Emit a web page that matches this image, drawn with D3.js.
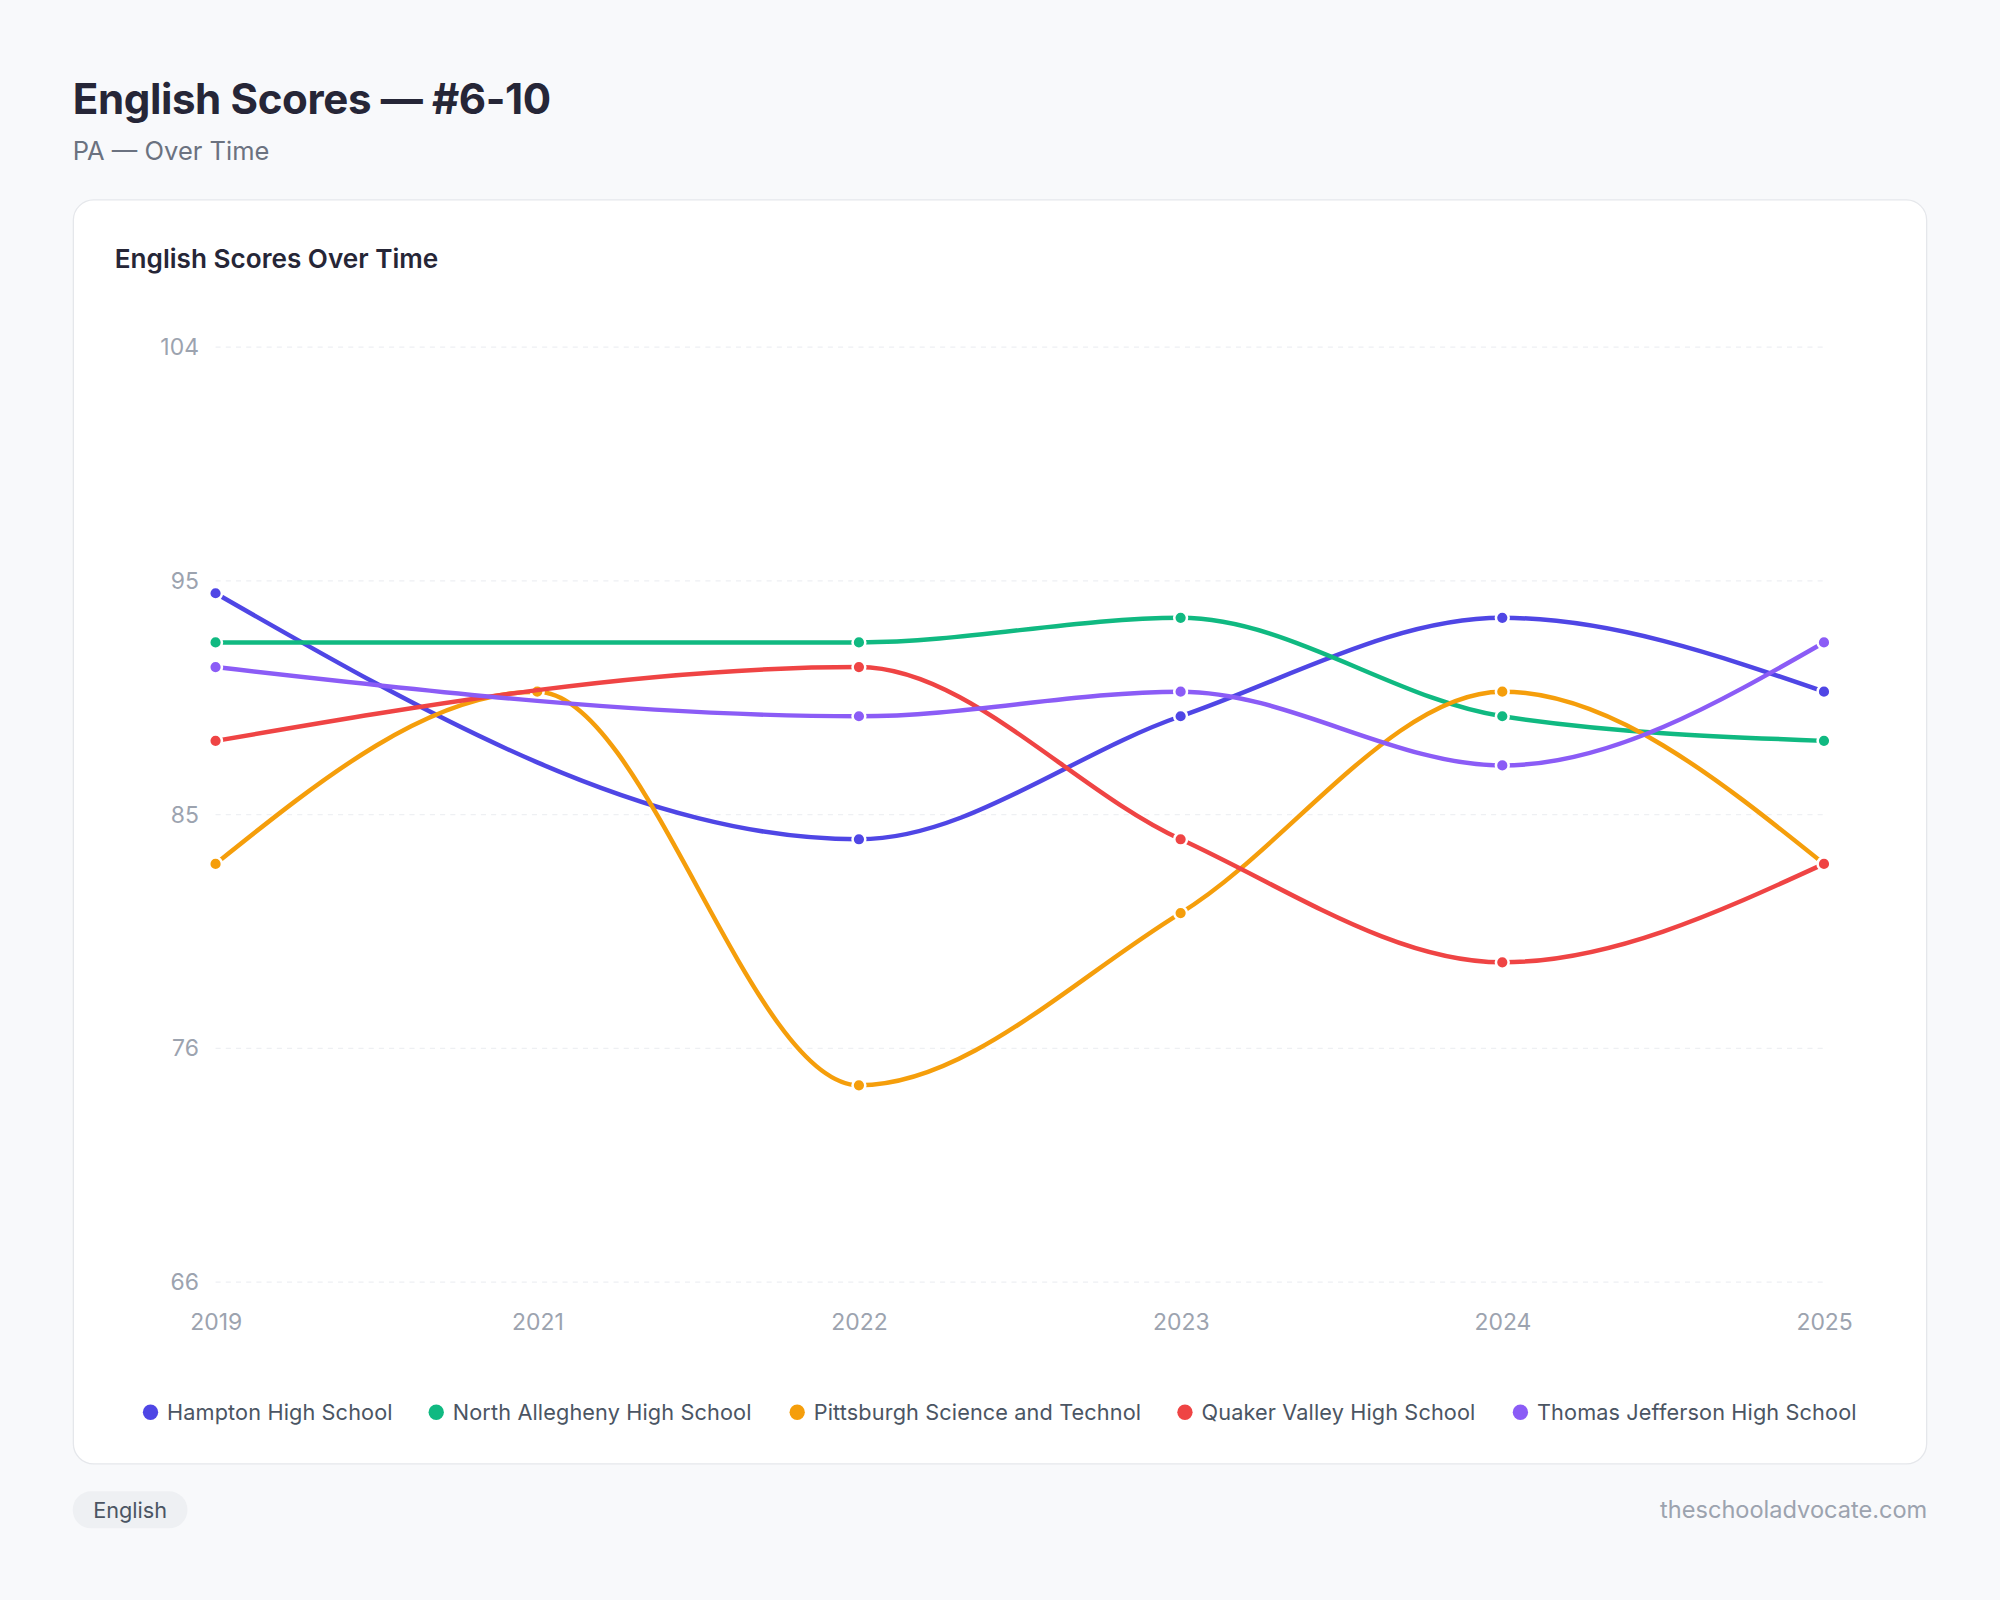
<!DOCTYPE html>
<html>
<head>
<meta charset="UTF-8">
<script src="https://d3js.org/d3.v7.min.js"></script>
<style>
  body { margin: 0; background: #f8f9fb; }
  svg { display: block; font-family: Inter, "Noto Sans", sans-serif; }
</style>
</head>
<body>
<svg width="2000" height="1600" viewBox="0 0 1568 1254"></svg>
<script>
const years = ['2019', '2021', '2022', '2023', '2024', '2025'];
const schools = ['Hampton High School', 'North Allegheny High School', 'Pittsburgh Science and Technol', 'Quaker Valley High School', 'Thomas Jefferson High School'];
const colors = ['#4f46e5', '#10b981', '#f59e0b', '#ef4444', '#8b5cf6'];
const hampton = [94, null, 84, 89, 93, 90];
const northAllegheny = [92, null, 92, 93, 89, 88];
const pittsburgh = [83, 90, 74, 81, 90, 83];
const quakerValley = [88, null, 91, 84, 79, 83];
const thomasJefferson = [91, null, 89, 90, 87, 92];
const yTicks = [66, 75.5, 85, 94.5, 104];
const seriesValues = [hampton, northAllegheny, pittsburgh, quakerValley, thomasJefferson];

const svg = d3.select('svg');
svg.append('rect').attr('width', 1568).attr('height', 1254).attr('fill', '#f8f9fb');

svg.append('text').attr('x', 57).attr('y', 89).attr('font-size', 33).attr('font-weight', 700)
  .attr('fill', '#262637').attr('letter-spacing', -0.3).text('English Scores — #6-10');
svg.append('text').attr('x', 57).attr('y', 125).attr('font-size', 20).attr('fill', '#6b7280').text('PA — Over Time');

svg.append('rect').attr('x', 57.5).attr('y', 156.5).attr('width', 1453).attr('height', 991).attr('rx', 16)
  .attr('fill', '#fff').attr('stroke', '#e5e7eb');
svg.append('text').attr('x', 90).attr('y', 210).attr('font-size', 20.5).attr('font-weight', 600)
  .attr('fill', '#262637').text('English Scores Over Time');

const x = d3.scalePoint().domain(years).range([169, 1430]);
const y = d3.scaleLinear().domain([66, 104]).range([1005, 272]);

// grid + y labels
const yAxis = svg.append('g').attr('transform', 'translate(169,0)')
  .call(d3.axisLeft(y).tickValues(yTicks).tickFormat(d3.format('.0f')).tickSize(0).tickPadding(13));
yAxis.select('.domain').remove();
yAxis.selectAll('text').attr('font-size', 18).attr('fill', '#9ca3af').attr('font-family', 'Inter');
svg.append('g').selectAll('line').data(yTicks).join('line')
  .attr('x1', 169).attr('x2', 1430).attr('y1', d => y(d)).attr('y2', d => y(d))
  .attr('stroke', '#eef0f3').attr('stroke-dasharray', '4,4');

const xAxis = svg.append('g').attr('transform', 'translate(0,1005)')
  .call(d3.axisBottom(x).tickSize(0).tickPadding(25));
xAxis.select('.domain').remove();
xAxis.selectAll('text').attr('font-size', 18).attr('fill', '#9ca3af').attr('font-family', 'Inter');

const line = d3.line().x(d => x(d.year)).y(d => y(d.v)).curve(d3.curveMonotoneX);

seriesValues.forEach((vals, i) => {
  const pts = years.map((yr, j) => ({ year: yr, v: vals[j] })).filter(d => d.v != null);
  svg.append('path').datum(pts).attr('d', line).attr('fill', 'none')
    .attr('stroke', colors[i]).attr('stroke-width', 3.5);
  svg.append('g').selectAll('circle').data(pts).join('circle')
    .attr('cx', d => x(d.year)).attr('cy', d => y(d.v)).attr('r', 5)
    .attr('fill', colors[i]).attr('stroke', '#fff').attr('stroke-width', 2);
});

// legend
const legendX = [118, 342, 625, 929, 1192];
schools.forEach((s, i) => {
  svg.append('circle').attr('cx', legendX[i]).attr('cy', 1107).attr('r', 6).attr('fill', colors[i]);
  svg.append('text').attr('x', legendX[i] + 13).attr('y', 1113).attr('font-size', 17)
    .attr('fill', '#4b5563').attr('letter-spacing', 0.1).text(s);
});

// footer
svg.append('rect').attr('x', 57).attr('y', 1169).attr('width', 90).attr('height', 29).attr('rx', 14.5).attr('fill', '#eef0f3');
svg.append('text').attr('x', 102).attr('y', 1190).attr('text-anchor', 'middle').attr('font-size', 17)
  .attr('fill', '#4b5563').text('English');
svg.append('text').attr('x', 1511).attr('y', 1190).attr('text-anchor', 'end').attr('font-size', 18.5)
  .attr('fill', '#9ca3af').text('theschooladvocate.com');
</script>
</body>
</html>
